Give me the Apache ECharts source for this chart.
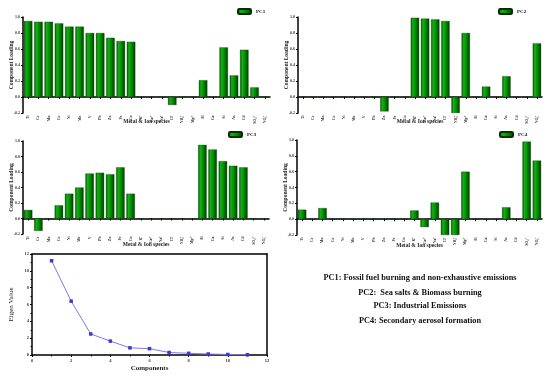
<!DOCTYPE html>
<html><head><meta charset="utf-8">
<script src="https://cdn.jsdelivr.net/npm/echarts@6/dist/echarts.min.js"></script>
<style>html,body{margin:0;padding:0;background:#fff}#c{width:550px;height:378px}</style>
</head><body><div id="c"></div>
<script>
const categories = ['Ti','Cr','Mn','Co','Ni','Mo','V','Pb','Zn','Fe','Cu','K⁺','Ca²⁺','Na⁺','Cl⁻','NH₄⁺','Mg²⁺','Al','Ca','Si','As','Cd','SO₄²⁻','NO₃⁻'];
const pc1 = [0.95,0.94,0.94,0.92,0.88,0.88,0.80,0.80,0.74,0.70,0.69,0,0,0,-0.10,0,0,0.21,0,0.62,0.27,0.59,0.12,0];
const pc2 = [0,0,0,0,0,0,0,0,-0.18,0,0,0.99,0.98,0.97,0.95,-0.20,0.80,0,0.13,0,0.26,0,0,0.67];
const pc3 = [0.11,-0.16,0,0.17,0.32,0.40,0.58,0.59,0.57,0.66,0.32,0,0,0,0,0,0,0.95,0.89,0.74,0.68,0.66,0,0];
const pc4 = [0.12,0,0.14,0,0,0,0,0,0,0,0,0.11,-0.10,0.21,-0.20,-0.20,0.60,0,0,0,0.15,0,0.98,0.74];
const components = [1,2,3,4,5,6,7,8,9,10,11];
const eigenValues = [11.2,6.4,2.5,1.65,0.85,0.75,0.3,0.2,0.12,0.06,0.03];
const notes = ['PC1: Fossil fuel burning and non-exhaustive emissions','PC2:  Sea salts & Biomass burning','PC3: Industrial Emissions','PC4: Secondary aerosol formation'];

const F = 'Liberation Serif';
const chart = echarts.init(document.getElementById('c'));
const barColor = new echarts.graphic.LinearGradient(0,0,1,0,[
  {offset:0,color:'#005800'},{offset:0.25,color:'#16b016'},{offset:0.55,color:'#009200'},{offset:1,color:'#003c00'}]);

const grids = [
  {left:23, top:17, width:247, height:96},
  {left:298, top:17, width:244, height:96},
  {left:23, top:141, width:246, height:93},
  {left:297, top:140, width:245, height:95},
  {left:32, top:254, width:235, height:101}
];
const pcs = [pc1,pc2,pc3,pc4];
const xAxes = [], yAxes = [], series = [], legends = [];
const legendPos = [{left:237,top:8},{left:498,top:8},{left:228,top:131},{left:499,top:131}];
const nameGaps = [5.5,5.5,8,8];
for (let i=0;i<4;i++){
  xAxes.push({type:'category', gridIndex:i, data:categories, name:'Metal & Ion species', nameLocation:'middle', nameGap:nameGaps[i], nameMoveOverlap:false,
    nameTextStyle:{fontFamily:F,fontWeight:'bold',fontSize:5.5,color:'#222'},
    axisLine:{onZero:true,lineStyle:{color:'#000',width:1.5}}, axisTick:{show:true,alignWithLabel:true,length:2,lineStyle:{color:'#000'}},
    axisLabel:{rotate:90,fontSize:3.8,fontFamily:F,fontWeight:'bold',color:'#333',margin:2.5,interval:0}});
  yAxes.push({type:'value', gridIndex:i, min:-0.2, max:1.0, interval:0.2, name:'Component Loading', nameLocation:'middle', nameGap:8, nameMoveOverlap:false,
    nameTextStyle:{fontFamily:F,fontWeight:'bold',fontSize:5.5,color:'#222'},
    axisLine:{show:true,lineStyle:{color:'#000',width:1.5}}, axisTick:{show:true,length:2,lineStyle:{color:'#000'}},
    splitLine:{show:false},
    axisLabel:{fontSize:4,fontFamily:F,fontWeight:'bold',color:'#333',margin:3,formatter:v=>v.toFixed(1)}});
  series.push({type:'bar', name:'PC'+(i+1), xAxisIndex:i, yAxisIndex:i, data:pcs[i], barCategoryGap:'18%',
    itemStyle:{color:barColor,borderColor:'#003000',borderWidth:0.3}});
  legends.push({data:['PC'+(i+1)], left:legendPos[i].left, top:legendPos[i].top, itemWidth:13, itemHeight:5, itemGap:2,
    textStyle:{fontFamily:F,fontWeight:'bold',fontSize:5,color:'#111'}, padding:0});
}
xAxes.push({type:'value', gridIndex:4, min:0, max:12, interval:2, name:'Components', nameLocation:'middle', nameGap:10, nameMoveOverlap:false,
  nameTextStyle:{fontFamily:F,fontWeight:'bold',fontSize:7,color:'#222'},
  axisLine:{show:true,onZero:false,lineStyle:{color:'#000',width:1.5}}, axisTick:{length:2,lineStyle:{color:'#000'}},
  minorTick:{show:true,splitNumber:2,length:1.5,lineStyle:{color:'#000'}},
  splitLine:{show:false}, axisLabel:{fontSize:4.5,fontFamily:F,fontWeight:'bold',color:'#333',margin:3}});
xAxes.push({type:'value', gridIndex:4, position:'top', min:0, max:12, interval:2, axisLine:{show:true,onZero:false,lineStyle:{color:'#000',width:1.5}}, axisTick:{show:false}, axisLabel:{show:false}, splitLine:{show:false}});
yAxes.push({type:'value', gridIndex:4, min:0, max:12, interval:2, name:'Eigen Value', nameLocation:'middle', nameGap:17, nameMoveOverlap:false,
  nameTextStyle:{fontFamily:F,fontSize:7,color:'#222'},
  axisLine:{show:true,onZero:false,lineStyle:{color:'#000',width:1.5}}, axisTick:{length:2,lineStyle:{color:'#000'}},
  minorTick:{show:true,splitNumber:2,length:1.5,lineStyle:{color:'#000'}},
  splitLine:{show:false}, axisLabel:{fontSize:4.5,fontFamily:F,fontWeight:'bold',color:'#333',margin:3}});
yAxes.push({type:'value', gridIndex:4, position:'right', min:0, max:12, interval:2, axisLine:{show:true,onZero:false,lineStyle:{color:'#000',width:1.5}}, axisTick:{show:false}, axisLabel:{show:false}, splitLine:{show:false}});
series.push({type:'line', xAxisIndex:4, yAxisIndex:4, data:components.map((c,k)=>[c,eigenValues[k]]),
  symbol:'rect', symbolSize:3.5, lineStyle:{color:'#7a7aee',width:1}, itemStyle:{color:'#3a3ad0'}});

const noteTops = [273.5,289,301.5,317];
chart.setOption({animation:false, grid:grids, xAxis:xAxes, yAxis:yAxes, series:series, legend:legends,
  graphic:notes.map((t,k)=>({type:'text', x:420, y:noteTops[k], style:{text:t, fontFamily:F, fontWeight:'bold', fontSize:8.3, fill:'#111', align:'center'}}))});
</script></body></html>
